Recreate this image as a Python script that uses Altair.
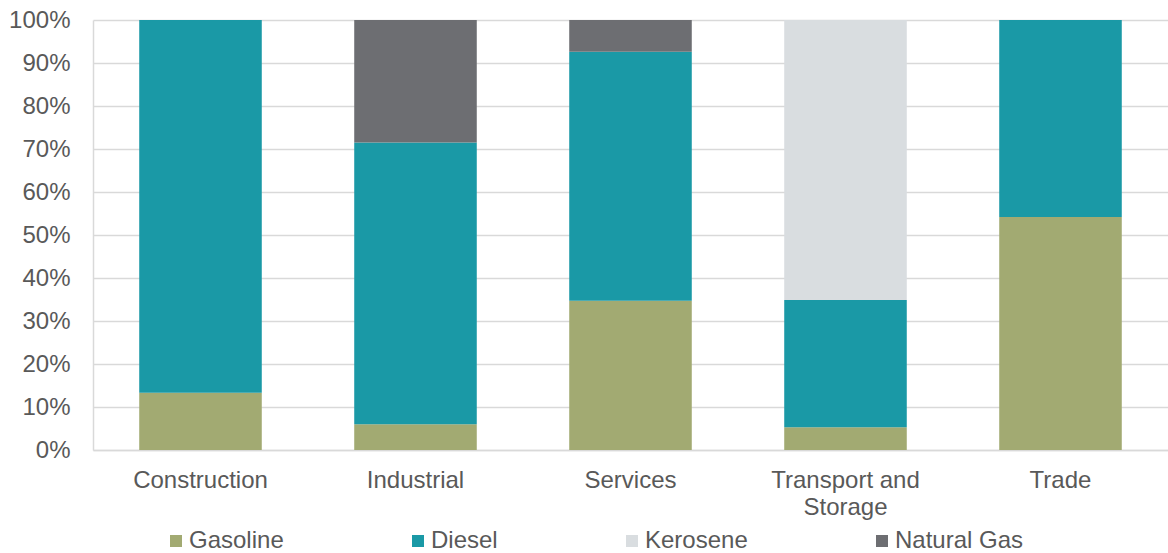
import altair as alt
import pandas as pd

categories = ["Construction", "Industrial", "Services", "Transport and Storage", "Trade"]
fuels = ["Gasoline", "Diesel", "Kerosene", "Natural Gas"]
colors = ["#a2aa72", "#1a99a6", "#d9dde0", "#6d6e72"]

gasoline = [13.3, 6.0, 34.7, 5.3, 54.2]
diesel = [86.7, 65.5, 57.9, 29.6, 45.8]
kerosene = [0.0, 0.0, 0.0, 65.1, 0.0]
natural_gas = [0.0, 28.5, 7.4, 0.0, 0.0]

series = [gasoline, diesel, kerosene, natural_gas]
rows = []
for fi, (fuel, vals) in enumerate(zip(fuels, series)):
    for cat, v in zip(categories, vals):
        rows.append({"category": cat, "fuel": fuel, "idx": fi, "share": v / 100.0})
df = pd.DataFrame(rows)

font = "Liberation Sans"
grey = "#595959"
fs = 24

chart = alt.Chart(df).mark_bar().encode(
    x=alt.X(
        "category:N",
        sort=categories,
        title=None,
        scale=alt.Scale(paddingInner=0.43, paddingOuter=0.215),
        axis=alt.Axis(
            labelAngle=0,
            labelFontSize=fs,
            labelColor=grey,
            labelFont=font,
            labelPadding=18,
            labelLineHeight=27,
            labelExpr="datum.label == 'Transport and Storage' ? ['Transport and', 'Storage'] : datum.label",
            ticks=False,
            domainColor="#d9d9d9",
            domainWidth=1.5,
        ),
    ),
    y=alt.Y(
        "share:Q",
        stack="zero",
        title=None,
        scale=alt.Scale(domain=[0, 1], nice=False),
        axis=alt.Axis(
            format=".0%",
            values=[0, 0.1, 0.2, 0.3, 0.4, 0.5, 0.6, 0.7, 0.8, 0.9, 1.0],
            labelFontSize=fs,
            labelColor=grey,
            labelFont=font,
            labelPadding=23,
            ticks=False,
            domainColor="#d9d9d9",
            domainWidth=1.5,
            gridColor="#d9d9d9",
            gridWidth=1.5,
        ),
    ),
    color=alt.Color(
        "fuel:N",
        sort=fuels,
        scale=alt.Scale(domain=fuels, range=colors),
        legend=alt.Legend(
            title=None,
            orient="none",
            legendX=71,
            legendY=509,
            direction="horizontal",
            columns=4,
            columnPadding=122,
            symbolType="square",
            symbolSize=144,
            symbolStrokeWidth=0,
            labelFontSize=fs,
            labelFont=font,
            labelColor=grey,
            labelOffset=1,
        ),
    ),
    order=alt.Order("idx:Q", sort="ascending"),
).properties(
    width=1075,
    height=430,
    autosize=alt.AutoSizeParams(type="none"),
    padding={"left": 93, "top": 20, "right": 0, "bottom": 103},
).configure_view(stroke=None)

chart.save("out.html", embed_options={"renderer": "svg", "actions": False})
